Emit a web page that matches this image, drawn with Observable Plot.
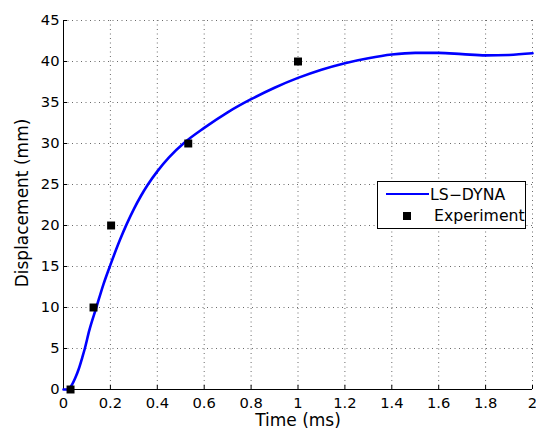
<!DOCTYPE html>
<html>
<head>
<meta charset="utf-8">
<script src="https://cdn.jsdelivr.net/npm/d3@7"></script>
<script src="https://cdn.jsdelivr.net/npm/@observablehq/plot@0.6"></script>
<style>
  html, body { margin: 0; padding: 0; background: #fff; }
  #wrap { position: relative; width: 536px; height: 435px; }
  #legend { position: absolute; left: 377px; top: 181px; width: 149px; height: 48px;
    box-sizing: border-box; border: 1px solid #000; background: #fff;
    font-family: "DejaVu Sans", sans-serif; font-size: 15.7px; line-height: 1; color: #000; }
  #legend .ln { position: absolute; left: 8px; top: 10.7px; width: 43px; height: 2.6px; background: #0000ff; }
  #legend .sq { position: absolute; left: 25px; top: 30px; width: 8px; height: 8px; background: #000; }
  #legend .t { position: absolute; white-space: nowrap; }
</style>
</head>
<body>
<div id="wrap"></div>
<script>
// Tick values
const xTicks = [0, 0.2, 0.4, 0.6, 0.8, 1, 1.2, 1.4, 1.6, 1.8, 2];
const yTicks = [0, 5, 10, 15, 20, 25, 30, 35, 40, 45];

// LS-DYNA simulation curve
const simTime = [0, 0.02, 0.03, 0.05, 0.065, 0.08, 0.091, 0.11, 0.14, 0.17, 0.2, 0.24, 0.27, 0.3, 0.33, 0.36, 0.4, 0.45, 0.52, 0.6, 0.7, 0.8, 0.9, 1.0, 1.1, 1.2, 1.3, 1.4, 1.5, 1.6, 1.7, 1.8, 1.9, 2.0];
const simDisp = [0, 0, 0.3, 1.4, 2.5, 3.9, 5, 7.2, 10, 12.8, 15.2, 18.2, 20.2, 22.0, 23.6, 25.0, 26.6, 28.3, 30.2, 31.9, 33.8, 35.4, 36.8, 38, 39, 39.8, 40.4, 40.85, 41.05, 41.05, 40.9, 40.75, 40.8, 41.0];

// Experiment points
const expTime = [0.03, 0.128, 0.203, 0.532, 1.0];
const expDisp = [0, 10, 20, 30, 40];

const seriesNames = ["LS\u2212DYNA", "Experiment"];
const xLabel = "Time (ms)";
const yLabel = "Displacement (mm)";

const gridStyle = { stroke: "#6a6a6a", strokeOpacity: 1, strokeWidth: 1, strokeDasharray: "1,3.5" };
const fmt = d => String(d);

const chart = Plot.plot({
  width: 536,
  height: 435,
  marginLeft: 63,
  marginRight: 4,
  marginTop: 20,
  marginBottom: 46,
  style: { fontFamily: "DejaVu Sans, sans-serif", fontSize: "14.7px", color: "#000", background: "#fff", overflow: "visible" },
  x: { domain: [0, 2] },
  y: { domain: [0, 45] },
  marks: [
    Plot.gridX(xTicks, gridStyle),
    Plot.gridY(yTicks, gridStyle),
    Plot.axisX(xTicks, { tickSize: 0, tickPadding: 8, tickFormat: fmt, label: null }),
    Plot.axisX(xTicks, { tickSize: -4, text: null, label: null }),
    Plot.axisY(yTicks, { tickSize: 0, tickPadding: 4, tickFormat: fmt, label: null }),
    Plot.axisY(yTicks, { tickSize: -4, text: null, label: null }),
    Plot.ruleX([0], { stroke: "#000", strokeWidth: 1 }),
    Plot.ruleY([0], { stroke: "#000", strokeWidth: 1 }),
    Plot.line(simTime, { x: simTime, y: simDisp, stroke: "#0000ff", strokeWidth: 2.6, curve: "monotone-x" }),
    Plot.dot(expTime, { x: expTime, y: expDisp, symbol: "square", fill: "#000", r: 4.5 }),
    Plot.text([xLabel], { text: d => d, frameAnchor: "bottom", lineAnchor: "middle", textAnchor: "middle", dy: 31, fontSize: 17 }),
    Plot.text([yLabel], { text: d => d, frameAnchor: "left", lineAnchor: "middle", textAnchor: "middle", dx: -41, dy: -2, rotate: -90, fontSize: 17 })
  ]
});

const wrap = document.getElementById("wrap");
wrap.appendChild(chart);

const legend = document.createElement("div");
legend.id = "legend";
legend.innerHTML =
  `<div class="ln"></div><div class="t" style="left:52px;top:5px">${seriesNames[0]}</div>` +
  `<div class="sq"></div><div class="t" style="left:56px;top:25.6px">${seriesNames[1]}</div>`;
wrap.appendChild(legend);
</script>
</body>
</html>
